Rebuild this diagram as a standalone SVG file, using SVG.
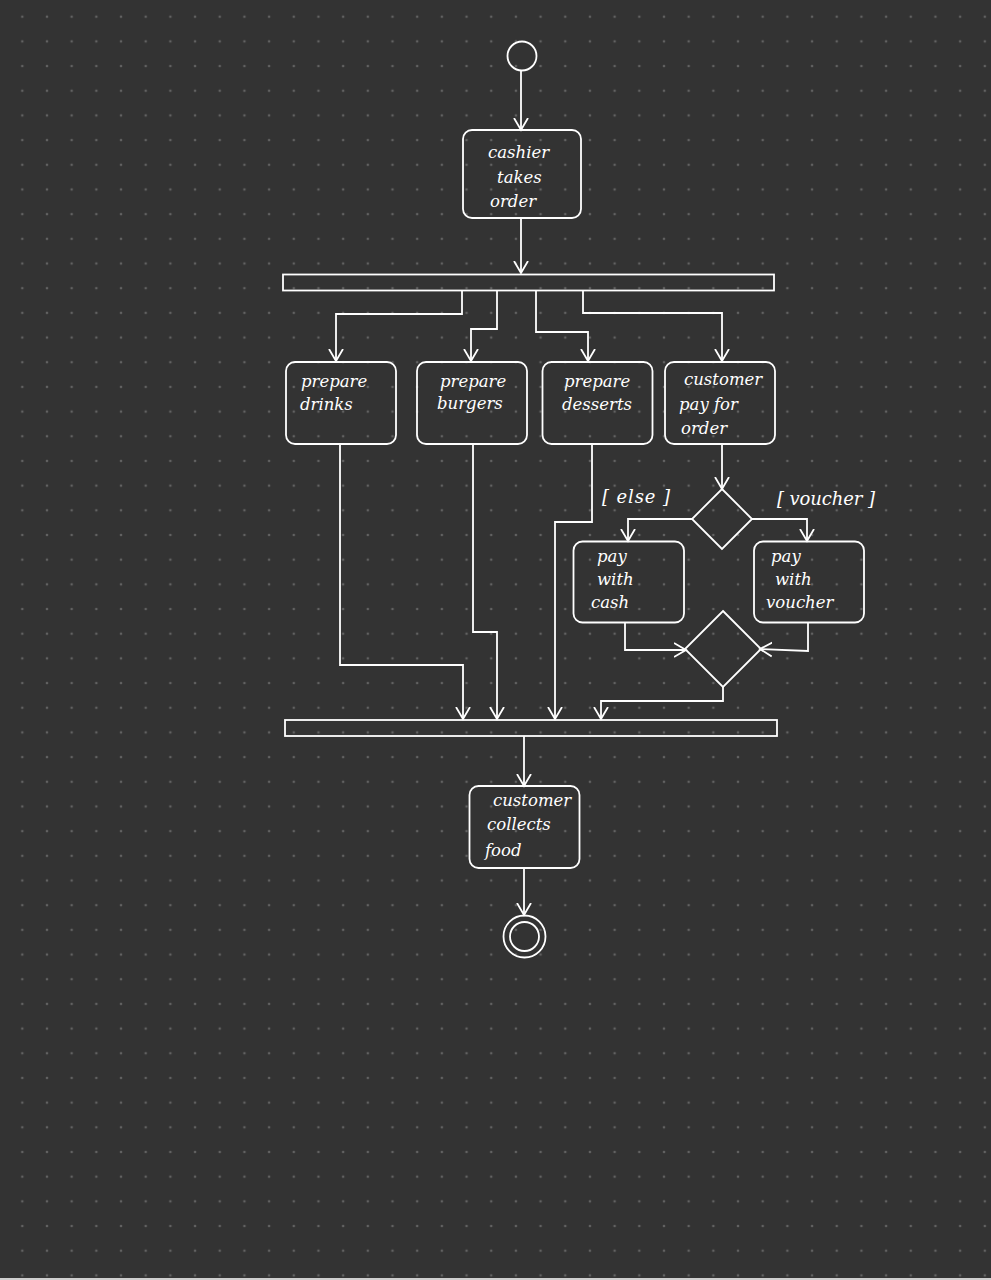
<svg xmlns="http://www.w3.org/2000/svg" width="991" height="1280" viewBox="0 0 991 1280">
<defs>
<pattern id="dots" x="22.3" y="16.7" width="24.68" height="24.68" patternUnits="userSpaceOnUse">
<circle cx="0" cy="0" r="1.3" fill="#626262"/>
<circle cx="24.68" cy="0" r="1.3" fill="#626262"/>
<circle cx="0" cy="24.68" r="1.3" fill="#626262"/>
<circle cx="24.68" cy="24.68" r="1.3" fill="#626262"/>
</pattern>
<marker id="arr" markerWidth="24" markerHeight="24" refX="12" refY="12" orient="auto" markerUnits="userSpaceOnUse">
<path d="M0,5 L12,12 L0,19" fill="none" stroke="#ffffff" stroke-width="1.8"/>
</marker>
<style>
.ln{fill:none;stroke:#ffffff;stroke-width:1.8}
.bx{fill:none;stroke:#ffffff;stroke-width:1.8}
.tx{font-family:"DejaVu Serif","Liberation Serif",serif;font-style:italic;font-size:16.5px;fill:#ffffff}
.lb{font-family:"DejaVu Serif","Liberation Serif",serif;font-style:italic;font-size:18px;fill:#ffffff}
</style>
</defs>
<rect width="991" height="1280" fill="#333333"/>
<rect width="991" height="1280" fill="url(#dots)"/>
<rect x="0" y="1278" width="991" height="2" fill="#cfcfcf"/>

<g id="connectors">
<path class="ln" d="M521,71 V130" marker-end="url(#arr)"/>
<path class="ln" d="M521,218 V273" marker-end="url(#arr)"/>
<path class="ln" d="M462,291 V314 H336 V361" marker-end="url(#arr)"/>
<path class="ln" d="M497,291 V329 H471 V361" marker-end="url(#arr)"/>
<path class="ln" d="M536,291 V332 H588 V361" marker-end="url(#arr)"/>
<path class="ln" d="M583,291 V313 H722 V361" marker-end="url(#arr)"/>
<path class="ln" d="M340,445 V665 H463 V719" marker-end="url(#arr)"/>
<path class="ln" d="M473,445 V632 H497 V719" marker-end="url(#arr)"/>
<path class="ln" d="M592,445 V522 H555 V719" marker-end="url(#arr)"/>
<path class="ln" d="M722,444 V489" marker-end="url(#arr)"/>
<path class="ln" d="M692,519 H628 V541" marker-end="url(#arr)"/>
<path class="ln" d="M752,519 H807 V541" marker-end="url(#arr)"/>
<path class="ln" d="M625,623 V650 H686" marker-end="url(#arr)"/>
<path class="ln" d="M808,623 V651 L760,649" marker-end="url(#arr)"/>
<path class="ln" d="M723,687 V701 H601 V719" marker-end="url(#arr)"/>
<path class="ln" d="M524,736 V786" marker-end="url(#arr)"/>
<path class="ln" d="M524,868 V915" marker-end="url(#arr)"/>
<text class="lb" x="602" y="503" textLength="68" lengthAdjust="spacing">[ else ]</text>
<text class="lb" x="777" y="505" textLength="98" lengthAdjust="spacing">[ voucher ]</text>
</g>

<g id="start"><circle cx="522" cy="56" r="14.5" fill="none" stroke="#ffffff" stroke-width="1.8"/></g>

<g id="cashier">
<rect class="bx" x="463" y="130" width="118" height="88" rx="9"/>
<text class="tx" x="488" y="158">cashier</text>
<text class="tx" x="497" y="183">takes</text>
<text class="tx" x="490" y="207">order</text>
</g>

<g id="fork"><rect class="bx" x="283" y="274.5" width="491" height="16"/></g>

<g id="drinks">
<rect class="bx" x="286" y="362" width="110" height="82" rx="9"/>
<text class="tx" x="301" y="387">prepare</text>
<text class="tx" x="300" y="410">drinks</text>
</g>
<g id="burgers">
<rect class="bx" x="417" y="362" width="110" height="82" rx="9"/>
<text class="tx" x="440" y="387">prepare</text>
<text class="tx" x="437" y="409">burgers</text>
</g>
<g id="desserts">
<rect class="bx" x="542.5" y="362" width="110" height="82" rx="9"/>
<text class="tx" x="564" y="387">prepare</text>
<text class="tx" x="562" y="410">desserts</text>
</g>
<g id="pay">
<rect class="bx" x="665" y="362" width="110" height="82" rx="9"/>
<text class="tx" x="684" y="385">customer</text>
<text class="tx" x="679" y="410">pay  for</text>
<text class="tx" x="681" y="434">order</text>
</g>

<g id="decision"><path class="bx" d="M722,489 L752,519 L722,549 L692,519 Z"/></g>

<g id="cash">
<rect class="bx" x="573.5" y="541.5" width="110.5" height="81" rx="9"/>
<text class="tx" x="597" y="562">pay</text>
<text class="tx" x="597" y="585">with</text>
<text class="tx" x="591" y="608">cash</text>
</g>
<g id="voucher">
<rect class="bx" x="754" y="541.5" width="110" height="81" rx="9"/>
<text class="tx" x="771" y="562">pay</text>
<text class="tx" x="775" y="585">with</text>
<text class="tx" x="766" y="608">voucher</text>
</g>

<g id="merge"><path class="bx" d="M723,611 L761,649 L723,687 L685,649 Z"/></g>

<g id="join"><rect class="bx" x="285" y="720" width="492" height="16"/></g>

<g id="collect">
<rect class="bx" x="469.5" y="786" width="110" height="82" rx="9"/>
<text class="tx" x="493" y="806">customer</text>
<text class="tx" x="487" y="830">collects</text>
<text class="tx" x="485" y="856">food</text>
</g>

<g id="end">
<circle cx="524.5" cy="936.5" r="21" fill="none" stroke="#ffffff" stroke-width="1.8"/>
<circle cx="524.5" cy="936.5" r="14.5" fill="none" stroke="#ffffff" stroke-width="1.8"/>
</g>
</svg>
